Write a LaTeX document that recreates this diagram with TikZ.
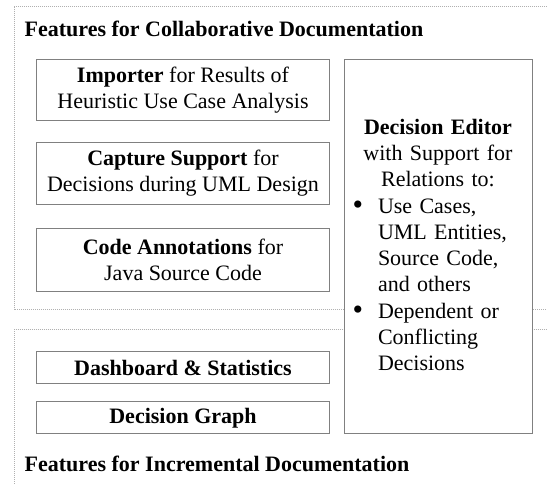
\documentclass[tikz,border=0pt]{standalone}
\usepackage{fontspec}
\setmainfont{Liberation Serif}
\newcommand{\debullet}{\leavevmode\llap{\makebox[26pt][l]{\hspace{0.5pt}\raisebox{-1.5pt}{\fontsize{30}{30}\selectfont\textbullet}}}}
\begin{document}
\begin{tikzpicture}[x=1pt,y=-1pt,
  feat/.style={draw=boxgray, line width=1pt, fill=white, inner sep=0pt, align=flush center,
    text width=290pt, font=\fontsize{22}{26}\selectfont},
  grp/.style={draw=dotgray, line width=0.7pt, dash pattern=on 1pt off 1pt},
  ttl/.style={anchor=base west, inner sep=0pt, font=\fontsize{22}{26}\selectfont\bfseries},
]
\definecolor{boxgray}{HTML}{808080}
\definecolor{dotgray}{HTML}{B0B0B0}
\useasboundingbox (0,0) rectangle (547,485);
\clip (0,0) rectangle (547,485);
\fill[white] (0,0) rectangle (547,485);
% group frames
\draw[grp] (14,6.7) rectangle (600,309.3);
\draw[grp] (14,329.3) rectangle (600,560);
% titles
\node[ttl] (t1) at (24.5,36.5) {Features for Collaborative Documentation};
\node[ttl] (t2) at (24.5,471) {Features for Incremental Documentation};
% left boxes
\node[feat, minimum height=61.4pt, minimum width=292.6pt] (imp) at (183,90)
  {\textbf{Importer} for Results of\\Heuristic Use Case Analysis};
\node[feat, minimum height=61.4pt, minimum width=292.6pt] (cap) at (183,173.4)
  {\textbf{Capture Support} for\\Decisions during UML Design};
\node[feat, minimum height=62.7pt, minimum width=292.6pt] (code) at (183,259.7)
  {\textbf{Code Annotations} for\\Java Source Code};
\node[feat, minimum height=31.6pt, minimum width=292.6pt] (dash) at (183,367.5)
  {\textbf{Dashboard \& Statistics}};
\node[feat, minimum height=32.3pt, minimum width=292.6pt] (graph) at (183,417.8)
  {\textbf{Decision Graph}};
% decision editor
\node[draw=boxgray, line width=1pt, fill=white, inner sep=0pt,
  minimum width=188.3pt, minimum height=374.2pt] (de) at (438.15,246.4) {};
\node[inner sep=0pt, text width=172pt, font=\fontsize{22}{26.3}\selectfont] (detext) at (438,245)
  {\centering\textbf{Decision Editor}\\with Support for\\Relations to:\par
   \raggedright\leftskip=26pt\parindent=0pt
   \debullet Use Cases,\\UML Entities,\\Source Code,\\and others\\
   \debullet Dependent or\\Conflicting\\Decisions\par};
\end{tikzpicture}
\end{document}
